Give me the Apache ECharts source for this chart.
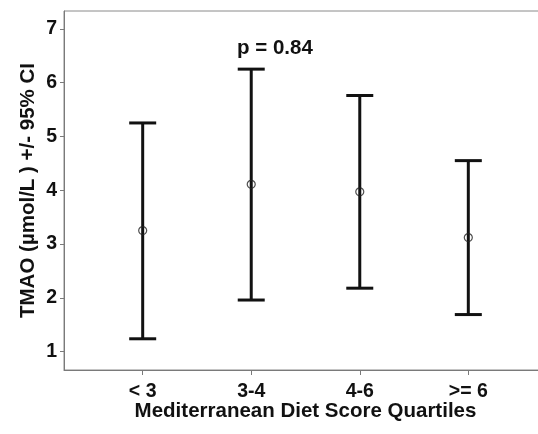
<!DOCTYPE html>
<html>
<head>
<meta charset="utf-8">
<script src="https://cdn.jsdelivr.net/npm/echarts@6/dist/echarts.min.js"></script>
<style>html,body{margin:0;padding:0;background:#fff;overflow:hidden;}#c{width:538px;height:434px;}</style>
</head>
<body>
<div id="c"></div>
<script>
var categories = ['< 3', '3-4', '4-6', '>= 6'];
var means = [3.25, 4.11, 3.97, 3.12];
var lowerCI = [1.24, 1.96, 2.18, 1.69];
var upperCI = [5.25, 6.25, 5.76, 4.55];
var yTicks = [1, 2, 3, 4, 5, 6, 7];
var xPositions = [1, 2, 3, 4];
var pText = 'p = 0.84';

var font = '"Liberation Sans", Arial, sans-serif';
var chart = echarts.init(document.getElementById('c'), null, {renderer: 'canvas'});

var barData = xPositions.map(function (x, i) { return [x, lowerCI[i], upperCI[i]]; });
var meanData = xPositions.map(function (x, i) { return [x, means[i]]; });

chart.setOption({
  animation: false,
  backgroundColor: '#fff',
  grid: {left: 64, top: 11, width: 483, height: 359, outerBoundsMode: 'none', containLabel: false,
    show: true, borderColor: '#8a8a8a', borderWidth: 1},
  xAxis: {
    type: 'value', min: 0.275, max: 4.725,
    name: 'Mediterranean Diet Score Quartiles', nameLocation: 'middle', nameGap: 31, nameMoveOverlap: false,
    nameTextStyle: {fontFamily: font, fontWeight: 'bold', fontSize: 20.5, color: '#111'},
    axisLine: {show: true, lineStyle: {color: '#7a7a7a', width: 1}},
    axisTick: {show: true, customValues: xPositions, length: 5, lineStyle: {color: '#7a7a7a'}},
    axisLabel: {customValues: xPositions, margin: 12, fontFamily: font, fontWeight: 'bold', fontSize: 19.5, color: '#111',
      formatter: function (v) { return categories[Math.round(v) - 1]; }},
    splitLine: {show: false}
  },
  yAxis: {
    type: 'value', min: 0.66, max: 7.33,
    name: 'TMAO (µmol/L ) +/- 95% CI', nameLocation: 'middle', nameGap: 25, nameRotate: 90, nameMoveOverlap: false,
    nameTextStyle: {fontFamily: font, fontWeight: 'bold', fontSize: 20.5, color: '#111'},
    axisLine: {show: true, lineStyle: {color: '#7a7a7a', width: 1}},
    axisTick: {show: true, customValues: yTicks, length: 4, lineStyle: {color: '#7a7a7a'}},
    axisLabel: {customValues: yTicks, margin: 7, fontFamily: font, fontWeight: 'bold', fontSize: 19.5, color: '#111'},
    splitLine: {show: false}
  },
  series: [
    {
      type: 'custom',
      data: barData,
      clip: false,
      renderItem: function (params, api) {
        var x = api.value(0);
        var lo = api.coord([x, api.value(1)]);
        var hi = api.coord([x, api.value(2)]);
        var hw = 13.5;
        var style = {stroke: '#111', lineWidth: 3};
        return {
          type: 'group',
          children: [
            {type: 'line', shape: {x1: lo[0], y1: lo[1], x2: hi[0], y2: hi[1]}, style: style},
            {type: 'line', shape: {x1: hi[0] - hw, y1: hi[1], x2: hi[0] + hw, y2: hi[1]}, style: style},
            {type: 'line', shape: {x1: lo[0] - hw, y1: lo[1], x2: lo[0] + hw, y2: lo[1]}, style: style}
          ]
        };
      },
      z: 2
    },
    {
      type: 'scatter',
      data: meanData,
      symbol: 'circle',
      symbolSize: 8,
      itemStyle: {color: 'rgba(255,255,255,0)', borderColor: '#222', borderWidth: 1.2},
      z: 3
    }
  ],
  graphic: [
    {type: 'text', left: 237, top: 38, style: {text: pText, fontFamily: font, fontWeight: 'bold', fontSize: 20.5, fill: '#111'}}
  ]
});
</script>
</body>
</html>
